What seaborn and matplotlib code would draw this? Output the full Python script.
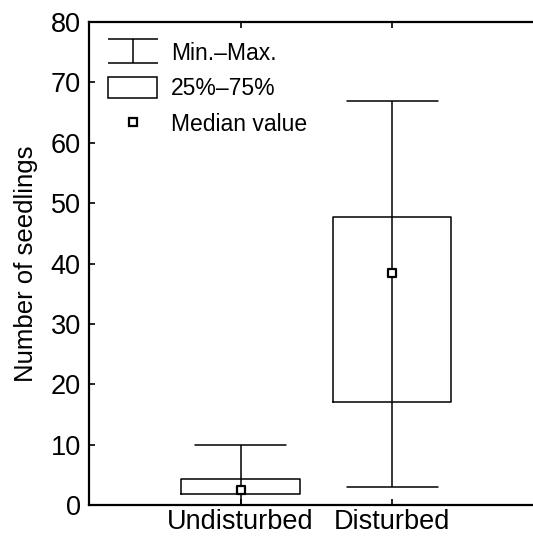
import numpy as np
import pandas as pd
import seaborn as sns
import matplotlib
matplotlib.use("Agg")
import matplotlib.pyplot as plt
from matplotlib.lines import Line2D
from matplotlib.patches import Rectangle
from matplotlib.path import Path

# Summary statistics per site
sites = ["Undisturbed", "Disturbed"]
v_min = [0.0, 3.0]
q25 = [1.8, 17.0]
median = [2.5, 38.5]
q75 = [4.3, 47.7]
v_max = [10.0, 67.0]

y_ticks = [0, 10, 20, 30, 40, 50, 60, 70, 80]

sns.set_style("ticks")
plt.rcParams["font.family"] = ["Liberation Sans", "DejaVu Sans"]
plt.rcParams["text.color"] = "black"
plt.rcParams["axes.labelcolor"] = "black"
plt.rcParams["xtick.color"] = "black"
plt.rcParams["ytick.color"] = "black"

# Five summary numbers per site: with whiskers at the 0th/100th percentile,
# the box hinges land exactly on the 25% / 75% values.
rows = []
for i, s in enumerate(sites):
    for v in (v_min[i], q25[i], median[i], q75[i], v_max[i]):
        rows.append({"site": s, "seedlings": v})
df = pd.DataFrame(rows)
med_df = pd.DataFrame({"site": sites, "seedlings": median})

fig = plt.figure(figsize=(5.33, 5.37), dpi=100)
ax = fig.add_axes([0.167, 0.0596, 0.833, 0.8994])

lw = 1.1
sns.boxplot(data=df, x="site", y="seedlings", order=sites, whis=(0, 100),
            width=0.78, fill=False, color="black", linewidth=lw,
            showfliers=False, capwidths=0.6,
            medianprops={"linewidth": 0}, ax=ax)
# whisker line continues through the box
ax.vlines(range(len(sites)), q25, q75, color="black", linewidth=lw, zorder=3)
sns.scatterplot(data=med_df, x="site", y="seedlings", marker="s", s=40,
                facecolor="white", edgecolor="black", linewidth=1.6,
                zorder=5, ax=ax)

ax.set_xlim(-1.0, 1.93)
ax.set_ylim(0, 80)
ax.set_yticks(y_ticks)
ax.set_xlabel("")
ax.set_ylabel("Number of seedlings", fontsize=18.5, labelpad=9)

for side in ("left", "top", "bottom"):
    ax.spines[side].set_linewidth(1.6)
    ax.spines[side].set_color("black")
ax.spines["right"].set_visible(False)

ax.tick_params(axis="y", direction="in", length=4.5, width=1.2,
               labelsize=19.5, pad=6)
ax.tick_params(axis="x", direction="in", length=4.5, width=1.2,
               labelsize=19.5, pad=3, top=True)

# Legend handles
ibar = Path([(-1, 0.47), (1, 0.47), (0, 0.47), (0, -0.47), (-1, -0.47), (1, -0.47)],
            [Path.MOVETO, Path.LINETO, Path.MOVETO, Path.LINETO, Path.MOVETO, Path.LINETO])
h_range = Line2D([], [], linestyle="none", marker=ibar, markersize=36,
                 markeredgecolor="black", markerfacecolor="none", markeredgewidth=lw)
h_box = Rectangle((0, 0), 1, 1, facecolor="white", edgecolor="black", linewidth=lw)
h_med = Line2D([], [], linestyle="none", marker="s", markersize=6,
               markerfacecolor="white", markeredgecolor="black", markeredgewidth=1.6)
ax.legend([h_range, h_box, h_med], ["Min.\u2013Max.", "25%\u201375%", "Median value"],
          loc="upper left", frameon=False, fontsize=16.5, handlelength=2.13,
          handleheight=1.0, handletextpad=0.6, labelspacing=0.55,
          borderaxespad=0.4, borderpad=0.45, numpoints=1)

fig.savefig("out.png", dpi=100)
